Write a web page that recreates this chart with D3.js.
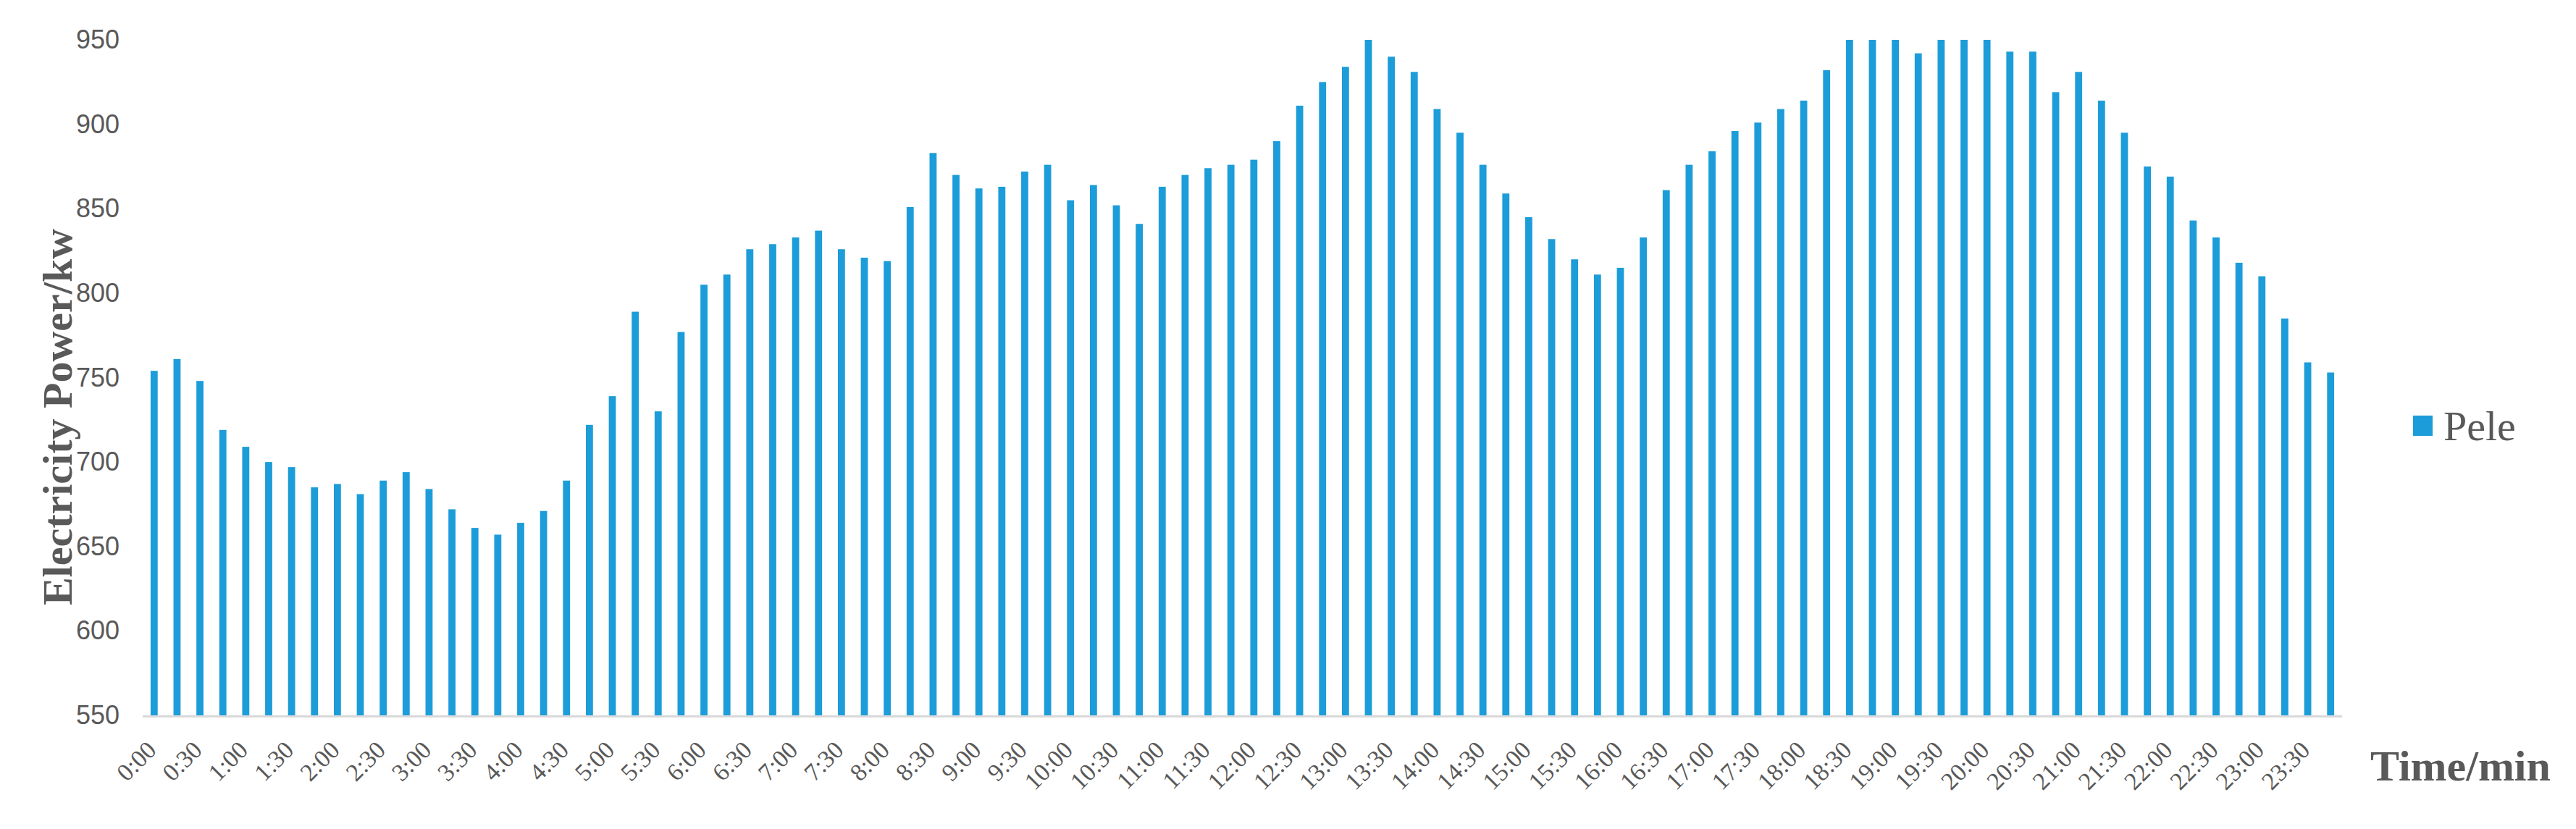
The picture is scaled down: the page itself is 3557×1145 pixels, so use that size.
<!DOCTYPE html>
<meta charset="utf-8">
<style>
  body { margin: 0; background: #fff; }
  .bar { fill: #1c9dd9; }
  .axis text { fill: #595959; }
  .y.axis text { font: 36px "Liberation Sans", sans-serif; }
  .x.axis text { font: 34px "Liberation Serif", serif; }
  .x.axis path { stroke: #d9d9d9; stroke-width: 3; }
  .title { font: bold 60px "Liberation Serif", serif; fill: #595959; }
  .legend text { font: 58px "Liberation Serif", serif; fill: #595959; }
</style>
<body>
<script src="https://d3js.org/d3.v7.min.js"></script>
<script>
  // 15-minute slots, 0:00 .. 23:45
  var times = [];
  for (var h = 0; h < 24; h++) {
    for (var m = 0; m < 60; m += 15) {
      times.push(h + ":" + (m < 10 ? "0" + m : m));
    }
  }

  var pele = [
    754, 761, 748, 719, 709, 700, 697, 685, 687, 681, 689, 694,
    684, 672, 661, 657, 664, 671, 689, 722, 739, 789, 730, 777,
    805, 811, 826, 829, 833, 837, 826, 821, 819, 851, 883, 870,
    862, 863, 872, 876, 855, 864, 852, 841, 863, 870, 874, 876,
    879, 890, 911, 925, 934, 950, 940, 931, 909, 895, 876, 859,
    845, 832, 820, 811, 815, 833, 861, 876, 884, 896, 901, 909,
    914, 932, 950, 950, 950, 942, 950, 950, 950, 943, 943, 919,
    931, 914, 895, 875, 869, 843, 833, 818, 810, 785, 759, 753
  ];

  var yTicks = [550, 600, 650, 700, 750, 800, 850, 900, 950];

  var width = 3557, height = 1145;
  var margin = {left: 197, right: 3234, top: 55, bottom: 988};

  var svg = d3.select("body").append("svg")
    .attr("width", width)
    .attr("height", height);

  var x = d3.scaleBand()
    .domain(times)
    .range([margin.left, margin.right])
    .paddingInner(0.69)
    .paddingOuter(0.345);

  var y = d3.scaleLinear()
    .domain([550, 950])
    .range([margin.bottom, margin.top]);

  // bars
  svg.selectAll(".bar")
    .data(pele)
    .enter().append("rect")
      .attr("class", "bar")
      .attr("x", function (d, i) { return x(times[i]); })
      .attr("y", function (d) { return y(d); })
      .attr("width", x.bandwidth())
      .attr("height", function (d) { return y(550) - y(d); });

  // x axis: line + every other label, rotated
  var gx = svg.append("g")
    .attr("class", "x axis");

  gx.append("path")
    .attr("d", "M" + margin.left + "," + (y(550) + 1.5) + "H" + margin.right);

  gx.selectAll("text")
    .data(times.filter(function (t, i) { return i % 2 === 0; }))
    .enter().append("text")
      .attr("text-anchor", "end")
      .attr("transform", function (t) {
        return "translate(" + (x(t) + x.bandwidth() / 2 + 5) + "," + (y(550) + 50) + ") rotate(-45)";
      })
      .text(function (t) { return t; });

  // y axis labels only
  var gy = svg.append("g")
    .attr("class", "y axis")
    .attr("transform", "translate(165,0)")
    .call(d3.axisLeft(y).tickValues(yTicks).tickSize(0).tickPadding(0));
  gy.select(".domain").remove();

  // axis titles
  svg.append("text")
    .attr("class", "title")
    .attr("text-anchor", "middle")
    .style("font-size", "58px")
    .attr("transform", "translate(99,576) rotate(-90)")
    .text("Electricity Power/kw");

  svg.append("text")
    .attr("class", "title")
    .attr("x", 3273)
    .attr("y", 1078)
    .text("Time/min");

  // legend
  var lg = svg.append("g").attr("class", "legend");
  lg.append("rect")
    .attr("class", "bar")
    .attr("x", 3332).attr("y", 574)
    .attr("width", 27).attr("height", 28);
  lg.append("text")
    .attr("x", 3374).attr("y", 608)
    .text("Pele");
</script>
</body>
